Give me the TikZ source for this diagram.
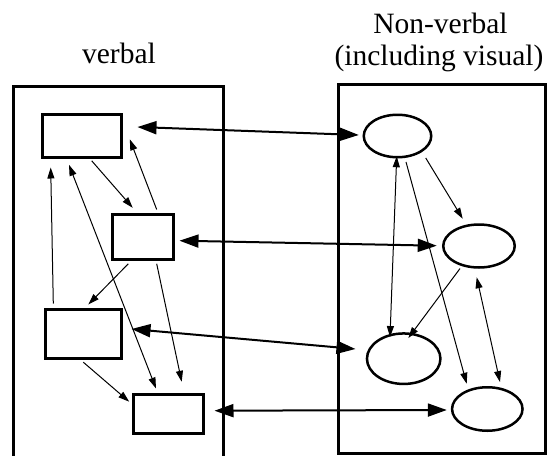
\documentclass[tikz,border=0pt]{standalone}
\usepackage{fontspec}
\setmainfont{Liberation Serif}
\usetikzlibrary{arrows.meta,shapes.geometric,calc}
\begin{document}
\begin{tikzpicture}[x=1pt,y=-1pt,
  panel/.style={line width=3pt},
  vbox/.style={draw,line width=3pt,rectangle,inner sep=0pt},
  nvell/.style={draw,line width=2.5pt,ellipse,inner sep=0pt},
  bigarrow/.style={line width=2pt,{Triangle[length=19pt,width=13pt]}-{Triangle[length=19pt,width=13pt]}},
  smallarrow/.style={line width=1pt,-{Triangle[length=11pt,width=7pt]}},
  smallboth/.style={line width=1pt,{Triangle[length=11pt,width=7pt]}-{Triangle[length=11pt,width=7pt]}},
  lbl/.style={font=\fontsize{29.5}{32}\selectfont,anchor=base,inner sep=0pt}]
\useasboundingbox (0,0) rectangle (554,455);

% titles
\node[lbl] (tv) at (119,63) {verbal};
\node[lbl] (tn1) at (440.5,33) {Non-verbal};
\node[lbl] (tn2) at (439,65) {(including visual)};

% panels
\draw[panel] (13,457) -- (13,86) -- (223,86) -- (223,457);
\draw[panel] (338,84) rectangle (545,453);

% verbal boxes
\node[vbox,minimum width=79pt,minimum height=43pt] (R1) at (82,136) {};
\node[vbox,minimum width=61pt,minimum height=45pt] (R2) at (143,237) {};
\node[vbox,minimum width=76pt,minimum height=49pt] (R3) at (83.5,334) {};
\node[vbox,minimum width=70pt,minimum height=39pt] (R4) at (168.5,414) {};

% non-verbal ellipses
\node[nvell,minimum width=67.5pt,minimum height=42.5pt] (E1) at (397.5,136) {};
\node[nvell,minimum width=71.5pt,minimum height=43pt] (E2) at (479,246) {};
\node[nvell,minimum width=73.5pt,minimum height=50.5pt] (E3) at (403.7,358.7) {};
\node[nvell,minimum width=70.5pt,minimum height=43.5pt] (E4) at (487.3,409) {};

% referential connections
\draw[bigarrow] ([xshift=14.5pt,yshift=9pt]R1.east) -- ([xshift=-3.75pt,yshift=1pt]E1.west);
\draw[bigarrow] ([xshift=4.5pt,yshift=-3.7pt]R2.east) -- ([xshift=-5.25pt,yshift=0.3pt]E2.west);
\draw[bigarrow] ([xshift=8.5pt,yshift=5pt]R3.east) -- ([xshift=-10.25pt,yshift=9.7pt]E3.west);
\draw[bigarrow] ([xshift=9.5pt,yshift=3.3pt]R4.east) -- ([xshift=-4pt,yshift=-1pt]E4.west);

% verbal associations
\draw[smallarrow] ([xshift=9.7pt,yshift=-1.8pt]R1.south) -- ([xshift=-10.3pt,yshift=5.2pt]R2.north);
\draw[smallarrow] ([xshift=13.7pt,yshift=3.5pt]R2.north) -- ([xshift=6.8pt,yshift=-3.3pt]R1.east);
\draw[smallarrow] ([xshift=-30.2pt,yshift=4.5pt]R3.north) -- ([xshift=-31.3pt,yshift=-8.5pt]R1.south);
\draw[smallboth] ([xshift=-13pt,yshift=-5.8pt]R1.south) -- ([xshift=-12.5pt,yshift=4.5pt]R4.north);
\draw[smallarrow] ([xshift=-14.7pt,yshift=-2.8pt]R2.south) -- ([xshift=4.8pt,yshift=3.5pt]R3.north);
\draw[smallarrow] ([xshift=13.7pt,yshift=-2.8pt]R2.south) -- ([xshift=13.2pt,yshift=11.2pt]R4.north);
\draw[smallarrow] ([xshift=-0.2pt,yshift=-2.2pt]R3.south) -- ([xshift=-2.8pt,yshift=12.3pt]R4.west);

% non-verbal associations
\draw[smallboth] ([xshift=-0.8pt,yshift=2.25pt]E1.south) -- ([xshift=-13.7pt,yshift=-4.85pt]E3.north);
\draw[smallarrow] ([xshift=8.5pt,yshift=-3.45pt]E1.south) -- ([xshift=-20.6pt,yshift=2.25pt]E4.north);
\draw[smallarrow] ([xshift=28.2pt,yshift=0.55pt]E1.south) -- ([xshift=-16.3pt,yshift=4.5pt]E2.north);
\draw[smallarrow] ([xshift=-19pt,yshift=0.2pt]E2.south) -- ([xshift=4.6pt,yshift=-5.85pt]E3.north);
\draw[smallboth] ([xshift=-2.3pt,yshift=-8.5pt]E2.south) -- ([xshift=12.7pt,yshift=3.95pt]E4.north);
\end{tikzpicture}
\end{document}
